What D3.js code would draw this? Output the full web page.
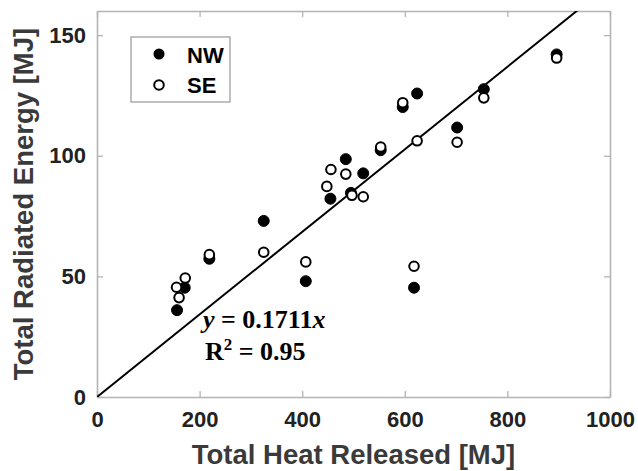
<html>
<head>
  <script src="https://d3js.org/d3.v7.min.js"></script>
  <style>
    body { margin: 0; background: #fff; }
  </style>
</head>
<body>
  <svg id="chart" width="638" height="471"></svg>
  <script>
    // NW and SE measurements [MJ]
    const nwHeat = [156, 171, 219, 325, 407, 618, 485, 519, 455, 495, 896, 754, 624, 596, 702, 553];
    const nwRad  = [36, 45.3, 57.3, 73, 48, 45.3, 98.6, 92.7, 82.2, 84.6, 142, 127.6, 125.8, 120.2, 111.7, 102.3];
    const seHeat = [160, 155, 172, 219, 325, 407, 618, 456, 485, 448, 497, 519, 896, 754, 596, 702, 624, 553];
    const seRad  = [41.2, 45.5, 49.3, 59, 60, 56, 54.2, 94.3, 92.4, 87.3, 83.6, 83, 140.5, 124, 122, 105.6, 106.2, 103.6];
    const slope = 0.1711;
    const xTicks = [0, 200, 400, 600, 800, 1000];
    const yTicks = [0, 50, 100, 150];

    const svg = d3.select("#chart");
    const margin = { top: 11, right: 28, bottom: 74, left: 97 };
    const width = 638 - margin.left - margin.right;
    const height = 471 - margin.top - margin.bottom;

    const x = d3.scaleLinear().domain([0, 1000]).range([0, width]);
    const y = d3.scaleLinear().domain([0, 160]).range([height, 0]);

    const g = svg.append("g").attr("transform", `translate(${margin.left},${margin.top})`);

    g.append("clipPath").attr("id", "clip")
      .append("rect").attr("width", width).attr("height", height);

    // axes (ticks inward, on all four sides)
    const axisColor = "#b4b4b4";
    const tickFont = "bold 22px 'Liberation Sans', Arial, sans-serif";

    const xb = g.append("g").attr("transform", `translate(0,${height})`)
      .call(d3.axisBottom(x).tickValues(xTicks).tickFormat(d3.format("d")).tickSizeInner(-6).tickSizeOuter(0).tickPadding(14));
    const xt = g.append("g")
      .call(d3.axisTop(x).tickValues(xTicks).tickSizeInner(-6).tickSizeOuter(0).tickFormat(""));
    const yl = g.append("g")
      .call(d3.axisLeft(y).tickValues(yTicks).tickSizeInner(-6).tickSizeOuter(0).tickPadding(11));
    const yr = g.append("g").attr("transform", `translate(${width},0)`)
      .call(d3.axisRight(y).tickValues(yTicks).tickSizeInner(-6).tickSizeOuter(0).tickFormat(""));

    [xb, xt, yl, yr].forEach(a => {
      a.selectAll("path.domain").attr("stroke", axisColor).attr("stroke-width", 1.6);
      a.selectAll(".tick line").attr("stroke", axisColor).attr("stroke-width", 1.3);
      a.selectAll(".tick text").style("font", tickFont).attr("fill", "#222");
    });

    // regression line
    g.append("line")
      .attr("clip-path", "url(#clip)")
      .attr("x1", x(0)).attr("y1", y(0))
      .attr("x2", x(1000)).attr("y2", y(slope * 1000))
      .attr("stroke", "#000").attr("stroke-width", 2);

    // points
    const nw = nwHeat.map((d, i) => ({ x: d, y: nwRad[i] }));
    const se = seHeat.map((d, i) => ({ x: d, y: seRad[i] }));

    g.selectAll("circle.nw").data(nw).join("circle")
      .attr("class", "nw")
      .attr("cx", d => x(d.x)).attr("cy", d => y(d.y))
      .attr("r", 5.5).attr("fill", "#000").attr("stroke", "#000").attr("stroke-width", 1);

    g.selectAll("circle.se").data(se).join("circle")
      .attr("class", "se")
      .attr("cx", d => x(d.x)).attr("cy", d => y(d.y))
      .attr("r", 4.8).attr("fill", "#fff").attr("stroke", "#000").attr("stroke-width", 2);

    // equation annotation
    const eqFont = "bold 26px 'Liberation Serif', 'Times New Roman', serif";
    const eq = g.append("text")
      .attr("x", 106).attr("y", 317)
      .style("font", eqFont);
    eq.append("tspan").style("font-style", "italic").text("y");
    eq.append("tspan").text(" = 0.1711");
    eq.append("tspan").style("font-style", "italic").text("x");

    const r2 = g.append("text")
      .attr("x", 108).attr("y", 349)
      .style("font", eqFont);
    r2.append("tspan").text("R");
    r2.append("tspan").attr("dy", -10).style("font-size", "17px").text("2");
    r2.append("tspan").attr("dy", 10).text(" = 0.95");

    // legend
    const lg = g.append("g").attr("transform", "translate(34,26)");
    lg.append("rect").attr("width", 99).attr("height", 65)
      .attr("fill", "#fff").attr("stroke", "#a0a0a0").attr("stroke-width", 1.3);
    lg.append("circle").attr("cx", 28).attr("cy", 17).attr("r", 5.5).attr("fill", "#000");
    lg.append("circle").attr("cx", 28).attr("cy", 48).attr("r", 4.8)
      .attr("fill", "#fff").attr("stroke", "#000").attr("stroke-width", 2);
    lg.append("text").attr("x", 56).attr("y", 26).text("NW")
      .style("font", "bold 22px 'Liberation Sans', Arial, sans-serif");
    lg.append("text").attr("x", 56).attr("y", 56).text("SE")
      .style("font", "bold 22px 'Liberation Sans', Arial, sans-serif");

    // axis titles
    const titleFont = "bold 27.5px 'Liberation Sans', Arial, sans-serif";
    svg.append("text")
      .attr("x", margin.left + width / 2).attr("y", 464)
      .attr("text-anchor", "middle").attr("fill", "#3a3a3a")
      .style("font", titleFont)
      .text("Total Heat Released [MJ]");
    svg.append("text")
      .attr("transform", `translate(33,${margin.top + height / 2}) rotate(-90)`)
      .attr("text-anchor", "middle").attr("fill", "#3a3a3a")
      .style("font", titleFont)
      .text("Total Radiated Energy [MJ]");
  </script>
</body>
</html>
